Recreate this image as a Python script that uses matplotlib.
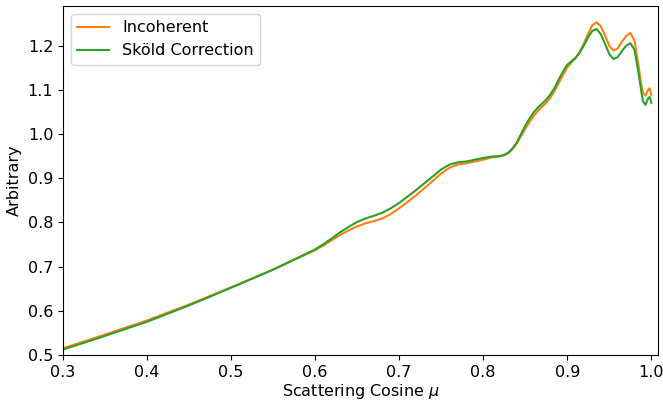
import matplotlib
matplotlib.use("Agg")
import matplotlib.pyplot as plt

# scattering cosine grid
mu = [0.30, 0.35, 0.40, 0.45, 0.50, 0.55, 0.60, 0.61, 0.62, 0.63, 0.64, 0.65,
      0.66, 0.67, 0.68, 0.69, 0.70, 0.72, 0.74, 0.75, 0.76, 0.77, 0.78, 0.79,
      0.80, 0.81, 0.82, 0.825, 0.83, 0.835, 0.84, 0.845, 0.85, 0.855, 0.86,
      0.865, 0.87, 0.875, 0.88, 0.885, 0.89, 0.895, 0.90, 0.905, 0.91, 0.915,
      0.92, 0.925, 0.93, 0.935, 0.94, 0.945, 0.95, 0.955, 0.96, 0.965, 0.97,
      0.975, 0.98, 0.985, 0.988, 0.99, 0.993, 0.996, 0.998, 1.0]

incoherent = [0.515, 0.546, 0.578, 0.614, 0.653, 0.693, 0.737, 0.748, 0.760,
              0.772, 0.782, 0.791, 0.798, 0.803, 0.809, 0.819, 0.832, 0.861,
              0.894, 0.911, 0.924, 0.931, 0.934, 0.938, 0.942, 0.947, 0.950,
              0.952, 0.957, 0.966, 0.979, 0.995, 1.012, 1.027, 1.041, 1.052,
              1.062, 1.071, 1.083, 1.098, 1.116, 1.134, 1.151, 1.162, 1.172,
              1.187, 1.206, 1.228, 1.247, 1.253, 1.244, 1.223, 1.200, 1.189,
              1.194, 1.209, 1.222, 1.229, 1.212, 1.152, 1.113, 1.094, 1.087,
              1.100, 1.104, 1.089]

skold = [0.512, 0.543, 0.575, 0.612, 0.652, 0.693, 0.739, 0.751, 0.764,
         0.778, 0.790, 0.801, 0.809, 0.815, 0.822, 0.832, 0.844, 0.873,
         0.904, 0.920, 0.931, 0.936, 0.938, 0.942, 0.946, 0.949, 0.950,
         0.953, 0.958, 0.968, 0.981, 1.000, 1.019, 1.035, 1.049, 1.060,
         1.069, 1.078, 1.090, 1.105, 1.124, 1.142, 1.157, 1.165, 1.173,
         1.185, 1.201, 1.220, 1.234, 1.238, 1.226, 1.204, 1.181, 1.170,
         1.174, 1.188, 1.200, 1.206, 1.191, 1.136, 1.098, 1.075, 1.066,
         1.080, 1.084, 1.071]

plt.rcParams['font.size'] = 11.5

fig = plt.figure(figsize=(6.63, 4.01), dpi=100)
ax = fig.add_axes([0.095, 0.115, 0.8975, 0.87])

ax.plot(mu, incoherent, color='tab:orange', lw=1.5, label='Incoherent')
ax.plot(mu, skold, color='tab:green', lw=1.5, label='Sköld Correction')

ax.set_xlim(0.3, 1.008)
ax.set_ylim(0.5, 1.29)
ax.set_xlabel(r'Scattering Cosine $\mu$', labelpad=2)
ax.set_ylabel('Arbitrary')
ax.legend(loc='upper left')

fig.savefig('out.png', dpi=100)
